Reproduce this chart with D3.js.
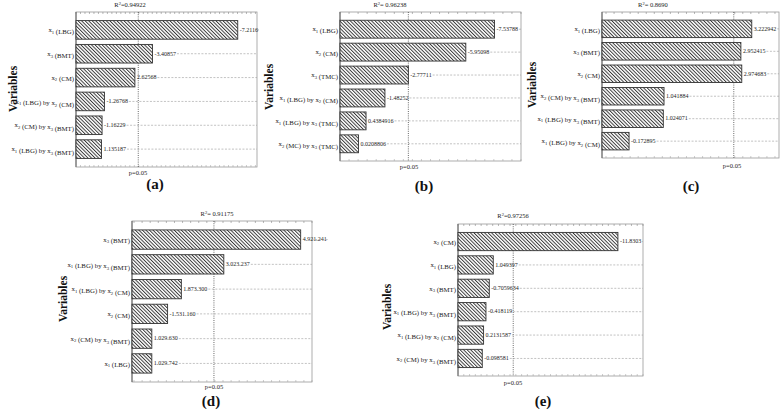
<!DOCTYPE html>
<html>
<head>
<meta charset="utf-8">
<script src="https://cdn.jsdelivr.net/npm/d3@7"></script>
<style>
  html, body { margin: 0; padding: 0; background: #fff; }
</style>
</head>
<body>
<svg id="chart" width="783" height="411"></svg>
<script>
// ---------------- DATA ----------------
const pCritical = 2.776;

const varsA = ["x1 (LBG)", "x3 (BMT)", "x2 (CM)", "x1 (LBG) by x2 (CM)", "x2 (CM) by x3 (BMT)", "x1 (LBG) by x3 (BMT)"];
const effectsA = [7.2116, 3.40857, 2.62568, 1.26768, 1.16229, 1.135187];
const labelsA = ["-7.2116", "-3.40857", "2.62568", "-1.26768", "-1.16229", "1.135187"];
const r2A = "0.94922";

const varsB = ["x1 (LBG)", "x2 (CM)", "x3 (TMC)", "x1 (LBG) by x2 (CM)", "x1 (LBG) by x3 (TMC)", "x2 (MC) by x3 (TMC)"];
const effectsB = [7.53788, 5.95098, 2.77711, 1.48252, 0.4384916, 0.0208806];
const labelsB = ["-7.53788", "-5.95098", "-2.77711", "-1.48252", "0.4384916", "0.0208806"];
const r2B = " 0.96238";

const varsC = ["x1 (LBG)", "x3 (BMT)", "x2 (CM)", "x2 (CM) by x3 (BMT)", "x1 (LBG) by x3 (BMT)", "x1 (LBG) by x2 (CM)"];
const effectsC = [3.222942, 2.952415, 2.974683, 1.041884, 1.024071, 0.172895];
const labelsC = ["3.222942", "2.952415", "2.974683", "1.041884", "1.024071", "-0.172895"];
const r2C = " 0.8690";

const varsD = ["x3 (BMT)", "x1 (LBG) by x3 (BMT)", "x1 (LBG) by x2 (CM)", "x2 (CM)", "x2 (CM) by x3 (BMT)", "x1 (LBG)"];
const effectsD = [4.92, 3.02, 1.97, 1.63, 1.24, 1.24];
const labelsD = ["4.921.241", "3.023.237", "1.873.300", "-1.531.160", "1.029.630", "1.029.742"];
const r2D = " 0.91175";

const varsE = ["x2 (CM)", "x1 (LBG)", "x3 (BMT)", "x1 (LBG) by x3 (BMT)", "x1 (LBG) by x2 (CM)", "x2 (CM) by x3 (BMT)"];
const effectsE = [11.8303, 1.049397, 0.7059634, 0.418119, 0.2131587, 0.098581];
const labelsE = ["-11.8303", "1.049397", "-0.7059634", "-0.418119", "0.2131587", "-0.098581"];
const r2E = "0.97256";

const panelLetters = ["(a)", "(b)", "(c)", "(d)", "(e)"];

// ---------------- LAYOUT ----------------
const panels = [
  { vars: varsA, eff: effectsA, lab: labelsA, r2: r2A, letter: panelLetters[0], domain: [0, 8.07],
    x0: 76, x1: 257, y0: 12, y1: 167, r2x: 130, r2y: 7, px: 138, py: 175, lx: 155, ly: 189, vx: 12.5, vy: 89 },
  { vars: varsB, eff: effectsB, lab: labelsB, r2: r2B, letter: panelLetters[1], domain: [-1, 9],
    x0: 340, x1: 521, y0: 12, y1: 161, r2x: 390, r2y: 7, px: 409, py: 169, lx: 424, ly: 191, vx: 269, vy: 87 },
  { vars: varsC, eff: effectsC, lab: labelsC, r2: r2C, letter: panelLetters[2], domain: [-0.5, 3.9],
    x0: 602, x1: 779, y0: 12, y1: 158, r2x: 653, r2y: 7, px: 732, py: 168, lx: 691, ly: 191, vx: 532, vy: 85 },
  { vars: varsD, eff: effectsD, lab: labelsD, r2: r2D, letter: panelLetters[3], domain: [0.75, 5.2],
    x0: 132, x1: 312, y0: 221, y1: 382, r2x: 217, r2y: 216, px: 214, py: 388.5, lx: 211, ly: 405.5, vx: 62.5, vy: 299 },
  { vars: varsE, eff: effectsE, lab: labelsE, r2: r2E, letter: panelLetters[4], domain: [-2, 14],
    x0: 458, x1: 643, y0: 224, y1: 376, r2x: 513, r2y: 218, px: 513, py: 385, lx: 543, ly: 406, vx: 387, vy: 307 }
];

const FONT = "'Liberation Serif', 'Times New Roman', 'DejaVu Serif', serif";
const svg = d3.select("#chart").attr("font-family", FONT);

// hatch pattern (\\\ direction)
const defs = svg.append("defs");
const pat = defs.append("pattern")
  .attr("id", "hatch").attr("patternUnits", "userSpaceOnUse")
  .attr("width", 2.5).attr("height", 2.5)
  .attr("patternTransform", "rotate(-45)");
pat.append("rect").attr("width", 2.5).attr("height", 2.5).attr("fill", "#fff");
pat.append("line").attr("x1", 0.5).attr("y1", 0).attr("x2", 0.5).attr("y2", 2.5)
  .attr("stroke", "#2a2a2a").attr("stroke-width", 0.9);

function addSubText(sel, str, size) {
  const parts = str.split(/(x\d)/);
  parts.forEach(p => {
    if (!p) return;
    const m = p.match(/^x(\d)$/);
    if (m) {
      sel.append("tspan").text("x");
      sel.append("tspan").attr("font-size", size * 0.7).attr("dy", 1.6).text(m[1]);
      sel.append("tspan").attr("dy", -1.6).text("");
    } else {
      sel.append("tspan").text(p);
    }
  });
}

panels.forEach(P => {
  const g = svg.append("g");
  const x = d3.scaleLinear().domain(P.domain).range([P.x0, P.x1]);
  const y = d3.scalePoint().domain(P.vars).range([P.y0, P.y1]).padding(0.75);
  const bh = y.step() * 0.78;

  // frame
  g.append("rect").attr("x", P.x0).attr("y", P.y0)
    .attr("width", P.x1 - P.x0).attr("height", P.y1 - P.y0)
    .attr("fill", "none").attr("stroke", "#999").attr("stroke-width", 0.8);
  g.append("line").attr("x1", P.x0).attr("x2", P.x0).attr("y1", P.y0).attr("y2", P.y1)
    .attr("stroke", "#555").attr("stroke-width", 0.9);

  // minor ticks top & bottom
  const ticks = x.ticks(28);
  g.selectAll(".tt").data(ticks).join("line")
    .attr("x1", d => x(d)).attr("x2", d => x(d))
    .attr("y1", P.y0).attr("y2", P.y0 + 2)
    .attr("stroke", "#888").attr("stroke-width", 0.6);
  g.selectAll(".tb").data(ticks).join("line")
    .attr("x1", d => x(d)).attr("x2", d => x(d))
    .attr("y1", P.y1).attr("y2", P.y1 - 2)
    .attr("stroke", "#aaa").attr("stroke-width", 0.6);

  // p line
  g.append("line").attr("x1", x(pCritical)).attr("x2", x(pCritical))
    .attr("y1", P.y0).attr("y2", P.y1)
    .attr("stroke", "#444").attr("stroke-width", 0.8).attr("stroke-dasharray", "1,1.2");

  const rows = P.vars.map((v, i) => ({ v, e: P.eff[i], l: P.lab[i] }));

  // bars (start at the plot's left edge)
  g.selectAll(".bar").data(rows).join("rect")
    .attr("x", P.x0)
    .attr("y", d => y(d.v) - bh / 2)
    .attr("width", d => x(d.e) - P.x0)
    .attr("height", bh)
    .attr("fill", "url(#hatch)")
    .attr("stroke", "#333").attr("stroke-width", 0.9);

  // value labels + dashed lines
  rows.forEach(d => {
    const tx = x(d.e) + 2;
    const t = g.append("text").attr("x", tx).attr("y", y(d.v) + 1.8)
      .attr("font-size", 6).attr("fill", "#222").text(d.l);
    const w = t.node().getComputedTextLength();
    g.append("line").attr("x1", tx + w + 1).attr("x2", P.x1)
      .attr("y1", y(d.v)).attr("y2", y(d.v))
      .attr("stroke", "#999").attr("stroke-width", 0.6).attr("stroke-dasharray", "2,1.5");
  });

  // category labels
  rows.forEach(d => {
    const t = g.append("text").attr("x", P.x0 - 2).attr("y", y(d.v) + 2.2)
      .attr("text-anchor", "end").attr("font-size", 6.8).attr("fill", "#222");
    addSubText(t, d.v, 6.8);
  });

  // R2 title
  const rt = g.append("text").attr("x", P.r2x).attr("y", P.r2y)
    .attr("text-anchor", "middle").attr("font-size", 6.5).attr("fill", "#222");
  rt.append("tspan").text("R");
  rt.append("tspan").attr("font-size", 4.5).attr("dy", -2.5).text("2");
  rt.append("tspan").attr("dy", 2.5).text("=" + P.r2);

  // p label
  g.append("text").attr("x", P.px).attr("y", P.py).attr("text-anchor", "middle")
    .attr("font-size", 6.5).attr("fill", "#222").text("p=0.05");

  // Variables
  g.append("text").attr("transform", `translate(${P.vx + 4},${P.vy}) rotate(-90)`)
    .attr("text-anchor", "middle").attr("font-size", 11.5).attr("font-weight", "bold")
    .attr("fill", "#111").text("Variables");

  // panel letter
  g.append("text").attr("x", P.lx).attr("y", P.ly).attr("text-anchor", "middle")
    .attr("font-size", 15).attr("font-weight", "bold").attr("fill", "#111").text(P.letter);
});
</script>
</body>
</html>
